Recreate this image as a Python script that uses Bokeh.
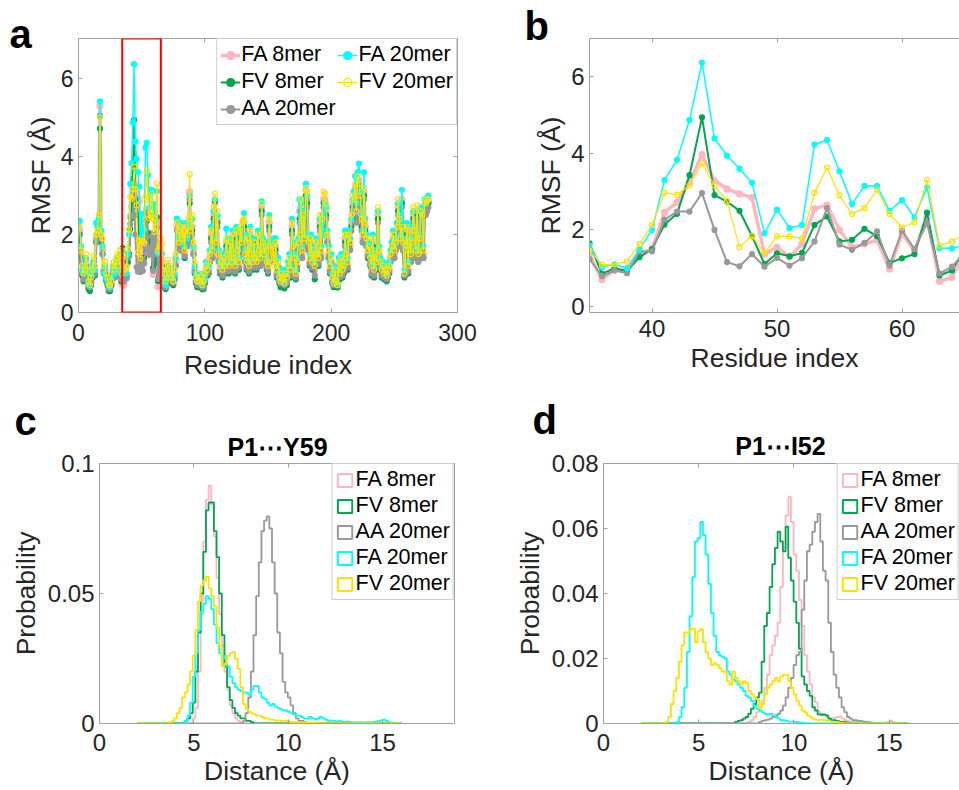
import numpy as np
from bokeh.plotting import figure
from bokeh.models import Range1d, LinearAxis, FixedTicker, Legend, LegendItem, BoxAnnotation
from bokeh.core.properties import value
from bokeh.layouts import row, column
from bokeh.embed import file_html
from bokeh.resources import INLINE

# ---------------- data ----------------
NAMES = ["FA 8mer", "FV 8mer", "AA 20mer", "FA 20mer", "FV 20mer"]
COLORS = ["#FFB6C1", "#00A650", "#999999", "#00FFFF", "#FFE100"]

PANEL_LETTERS = ["a", "b", "c", "d"]
HIST_TITLES = ["P1⋯Y59", "P1⋯I52"]

# RMSF (Angstrom) per residue 1..277
RMSF_FA8 = [
    2.10, 1.50, 1.00, 0.90, 1.00, 1.30, 1.00, 0.65, 0.60, 0.80,
    1.00, 1.30, 1.00, 1.90, 2.00, 2.30, 5.30, 1.90, 1.60, 1.10,
    1.10, 0.90, 0.75, 0.60, 0.60, 0.75, 1.00, 1.10, 0.95, 1.25,
    1.35, 1.00, 1.45, 0.75,
    1.36, 0.70, 0.96, 0.98, 1.37, 1.50, 2.46, 2.72, 3.24, 3.97,
    3.29, 3.07, 2.94, 2.85, 1.37, 1.55, 1.29, 1.63, 2.55, 2.65,
    2.00, 1.55, 1.63, 1.74, 0.98, 1.90, 1.46, 2.33, 0.66, 0.76,
    1.40, 1.30, 0.75, 0.70, 0.65, 0.85,
    1.10, 0.85, 0.80, 1.00, 0.75, 0.90, 1.30, 2.20, 1.90, 1.70,
    2.10, 1.70, 1.90, 1.50, 2.10, 1.80, 2.20, 3.10, 1.90, 2.20,
    1.60, 1.10, 0.80, 0.70, 0.80, 0.70, 0.80, 0.60, 0.65, 0.80,
    1.10, 1.00, 1.10, 1.40, 2.00, 1.50, 2.50, 2.80, 1.70, 2.40,
    1.40, 1.10, 1.10, 1.00, 1.30, 1.10, 1.80, 1.40, 1.10, 1.70,
    1.20, 1.90, 1.30, 1.10, 2.00, 1.50, 1.20, 2.00, 1.70, 2.10,
    2.30, 1.40, 1.20, 1.80, 1.10, 2.00, 1.40, 1.20, 1.70, 1.30,
    1.20, 1.90, 1.50, 1.30, 2.70, 1.70, 1.40, 1.60, 1.20, 1.10,
    2.30, 1.50, 1.50, 1.60, 1.60, 1.70, 1.00, 1.20, 0.85, 0.75,
    0.90, 0.80, 0.70, 0.90, 0.80, 1.10, 1.30, 1.00, 2.20, 1.60,
    1.30, 0.95, 1.20, 1.70, 2.60, 2.70, 1.50, 2.40, 1.80, 3.15,
    2.90, 1.70, 1.30, 1.80, 1.20, 1.50, 1.10, 1.70, 1.40, 1.30,
    2.30, 1.50, 2.30, 2.90, 2.90, 2.60, 1.90, 1.50, 1.10, 1.30,
    0.85, 0.70, 1.00, 0.75, 0.65, 1.20, 0.95, 1.30, 1.00, 1.10,
    1.90, 1.40, 1.20, 1.90, 1.70, 2.30, 2.80, 2.80, 3.20, 2.50,
    3.30, 3.40, 2.90, 2.30, 1.90, 3.10, 2.20, 1.80, 1.50, 1.60,
    1.30, 1.10, 1.80, 1.00, 1.40, 1.20, 2.50, 1.50, 1.20, 1.00,
    1.10, 0.95, 1.00, 0.90, 1.00, 1.10, 1.40, 1.60, 1.90, 1.50,
    1.70, 2.10, 2.70, 2.30, 1.80, 2.90, 1.70, 0.95, 1.50, 2.10,
    1.10, 2.00, 1.40, 1.70, 2.50, 2.00, 1.50, 2.60, 1.40, 1.80,
    2.50, 2.40, 1.50, 2.70, 2.70, 2.80, 2.85,
]
RMSF_FV8 = [
    2.00, 1.40, 0.95, 0.80, 0.90, 1.20, 0.90, 0.60, 0.55, 0.70,
    0.90, 1.20, 0.95, 1.80, 1.90, 2.20, 4.72, 1.80, 1.50, 1.00,
    1.00, 0.80, 0.70, 0.55, 0.55, 0.70, 0.90, 1.00, 0.90, 1.20,
    1.30, 0.95, 1.40, 0.80,
    1.65, 0.85, 1.00, 0.92, 1.29, 1.50, 2.14, 2.42, 3.43, 4.94,
    2.91, 2.74, 2.50, 1.84, 1.11, 1.39, 1.31, 1.40, 2.13, 2.35,
    1.70, 1.74, 2.03, 1.84, 1.14, 1.26, 1.37, 2.45, 0.81, 0.94,
    1.50, 1.20, 0.70, 0.65, 0.60, 0.80,
    1.00, 0.80, 0.75, 0.95, 0.70, 0.85, 1.20, 2.40, 1.80, 1.60,
    2.00, 1.60, 1.80, 1.40, 2.00, 1.70, 2.10, 2.80, 1.80, 2.10,
    1.50, 1.00, 0.75, 0.65, 0.75, 0.65, 0.75, 0.60, 0.60, 0.75,
    1.00, 0.95, 1.00, 1.30, 1.90, 1.40, 2.40, 2.85, 1.60, 2.30,
    1.30, 1.00, 1.00, 0.90, 1.20, 1.00, 1.70, 1.30, 1.00, 1.60,
    1.10, 1.80, 1.20, 1.00, 1.90, 1.40, 1.10, 1.90, 1.60, 2.00,
    2.20, 1.30, 1.10, 1.70, 1.00, 1.90, 1.30, 1.10, 1.60, 1.20,
    1.10, 1.80, 1.40, 1.20, 2.60, 1.60, 1.30, 1.50, 1.10, 1.00,
    2.20, 1.40, 1.30, 1.50, 1.40, 1.60, 0.90, 1.10, 0.75, 0.65,
    0.80, 0.70, 0.62, 0.80, 0.70, 1.00, 1.20, 0.90, 2.10, 1.50,
    1.20, 0.85, 1.10, 1.60, 2.40, 2.60, 1.40, 2.30, 1.70, 3.00,
    2.80, 1.60, 1.20, 1.70, 1.10, 1.40, 0.85, 1.60, 1.30, 1.20,
    2.20, 1.40, 2.20, 2.80, 2.80, 2.50, 1.80, 1.40, 1.00, 1.20,
    0.75, 0.65, 0.90, 0.70, 0.65, 1.10, 0.85, 1.20, 0.90, 1.00,
    1.80, 1.30, 1.10, 1.80, 1.60, 2.20, 2.70, 2.70, 3.10, 2.40,
    3.20, 3.30, 2.80, 2.20, 1.80, 3.00, 2.10, 1.70, 1.40, 1.50,
    1.20, 0.95, 1.70, 0.90, 1.30, 1.10, 2.40, 1.40, 1.10, 0.90,
    1.00, 0.85, 0.90, 0.80, 0.90, 1.00, 1.30, 1.50, 1.80, 1.40,
    1.60, 2.00, 2.60, 2.20, 1.70, 2.80, 1.60, 0.90, 1.40, 2.00,
    1.00, 1.90, 1.30, 1.60, 2.40, 1.90, 1.40, 2.50, 1.30, 1.70,
    2.40, 2.30, 1.40, 2.60, 2.60, 2.70, 2.80,
]
RMSF_AA20 = [
    1.60, 1.30, 1.00, 0.85, 0.95, 1.20, 0.95, 0.70, 0.65, 0.75,
    0.95, 1.20, 1.00, 1.80, 1.90, 2.10, 5.05, 1.90, 1.50, 1.05,
    1.05, 0.85, 0.75, 0.60, 0.60, 0.75, 0.95, 1.00, 0.90, 1.20,
    1.30, 0.95, 1.40, 0.85,
    1.24, 0.79, 0.94, 0.87, 1.44, 1.44, 2.27, 2.48, 2.48, 2.96,
    2.00, 1.16, 1.05, 1.37, 1.04, 1.27, 1.07, 1.26, 1.70, 2.57,
    1.62, 1.48, 1.66, 1.96, 1.07, 1.98, 1.50, 2.18, 0.86, 1.04,
    1.40, 1.10, 0.75, 0.70, 0.65, 0.85,
    1.00, 0.85, 0.80, 1.00, 0.75, 0.90, 1.20, 2.10, 1.80, 1.60,
    1.90, 1.60, 1.80, 1.45, 1.90, 1.70, 2.00, 2.90, 1.80, 2.00,
    1.50, 1.05, 0.80, 0.70, 0.80, 0.70, 0.80, 0.65, 0.65, 0.80,
    1.00, 1.00, 1.05, 1.30, 1.80, 1.40, 2.30, 2.60, 1.60, 2.20,
    1.30, 1.05, 1.05, 0.95, 1.20, 1.05, 1.60, 1.30, 1.05, 1.50,
    1.15, 1.70, 1.20, 1.05, 1.80, 1.40, 1.15, 1.80, 1.50, 1.90,
    2.10, 1.30, 1.15, 1.60, 1.05, 1.80, 1.30, 1.15, 1.50, 1.20,
    1.15, 1.70, 1.40, 1.20, 2.50, 1.60, 1.30, 1.50, 1.15, 1.05,
    2.10, 1.40, 1.30, 1.50, 1.40, 1.50, 0.95, 1.15, 0.80, 0.75,
    0.85, 0.75, 0.70, 0.85, 0.75, 1.05, 1.20, 0.95, 2.00, 1.50,
    1.20, 0.90, 1.15, 1.60, 2.30, 2.50, 1.40, 2.20, 1.70, 2.90,
    2.70, 1.60, 1.25, 1.70, 1.15, 1.40, 0.95, 1.60, 1.30, 1.25,
    2.10, 1.40, 2.10, 2.70, 2.70, 2.40, 1.80, 1.40, 1.05, 1.25,
    0.80, 0.70, 0.95, 0.75, 0.70, 1.10, 0.90, 1.20, 0.95, 1.05,
    1.70, 1.30, 1.15, 1.70, 1.60, 2.10, 2.60, 2.60, 2.90, 2.30,
    3.00, 3.10, 2.70, 2.10, 1.80, 2.90, 2.00, 1.70, 1.45, 1.50,
    1.25, 1.00, 1.60, 0.95, 1.30, 1.15, 2.30, 1.40, 1.15, 0.95,
    1.05, 0.90, 0.95, 0.85, 0.95, 1.05, 1.30, 1.50, 1.70, 1.40,
    1.60, 1.90, 2.50, 2.10, 1.70, 2.70, 1.60, 0.95, 1.40, 1.90,
    1.05, 1.80, 1.30, 1.60, 2.30, 1.80, 1.40, 2.40, 1.30, 1.65,
    2.30, 2.20, 1.40, 2.50, 2.50, 2.60, 2.70,
]
RMSF_FA20 = [
    2.35, 1.70, 1.10, 1.00, 1.20, 1.40, 1.10, 0.75, 0.70, 1.00,
    1.20, 1.30, 1.10, 2.30, 2.20, 2.40, 5.42, 2.10, 1.70, 1.00,
    1.20, 0.90, 0.80, 0.70, 0.65, 0.90, 1.10, 1.20, 1.00, 1.30,
    1.40, 1.10, 1.50, 1.10,
    1.59, 1.03, 1.10, 1.00, 1.50, 2.00, 3.30, 3.83, 4.87, 6.37,
    4.39, 3.94, 3.60, 3.23, 1.91, 2.53, 2.05, 2.13, 4.23, 4.35,
    3.53, 2.68, 3.15, 3.15, 2.50, 2.78, 2.33, 3.11, 1.53, 1.52,
    1.60, 1.50, 0.90, 0.75, 0.70, 0.90,
    1.20, 0.90, 1.00, 1.10, 0.90, 1.00, 1.40, 2.40, 2.00, 1.90,
    2.30, 1.80, 2.00, 1.70, 2.30, 1.90, 2.30, 3.00, 2.20, 2.40,
    1.70, 1.20, 1.00, 0.80, 0.90, 0.80, 1.00, 0.75, 0.80, 0.90,
    1.30, 1.20, 1.20, 1.60, 2.20, 1.70, 2.60, 2.90, 1.90, 2.50,
    1.60, 1.30, 1.20, 1.20, 1.50, 1.30, 2.15, 1.60, 1.30, 1.90,
    1.40, 2.10, 1.50, 1.30, 2.20, 1.70, 1.40, 2.10, 1.90, 2.30,
    2.55, 1.60, 1.40, 2.00, 1.30, 2.20, 1.60, 1.40, 1.90, 1.50,
    1.40, 2.10, 1.70, 1.50, 2.85, 1.90, 1.60, 1.80, 1.40, 1.30,
    2.50, 1.80, 1.85, 1.80, 1.90, 1.90, 1.20, 1.40, 1.00, 0.85,
    1.10, 0.95, 0.80, 1.10, 1.00, 1.30, 1.50, 1.20, 2.40, 1.80,
    1.50, 1.10, 1.40, 1.90, 2.90, 2.80, 1.70, 2.60, 2.00, 3.30,
    3.00, 1.90, 1.50, 2.00, 1.40, 1.70, 1.30, 1.90, 1.60, 1.50,
    2.40, 1.70, 2.50, 2.00, 2.80, 2.70, 2.10, 1.70, 1.30, 1.50,
    1.00, 0.80, 1.20, 0.85, 0.75, 1.40, 1.10, 1.50, 1.20, 1.30,
    2.10, 1.60, 1.40, 2.10, 1.90, 2.40, 2.90, 3.10, 3.50, 2.80,
    3.60, 3.82, 3.10, 2.50, 2.10, 3.60, 2.40, 2.00, 1.70, 1.80,
    1.50, 1.30, 2.00, 1.20, 1.60, 1.40, 2.60, 1.70, 1.40, 1.20,
    1.30, 1.10, 1.20, 1.00, 1.20, 1.30, 1.60, 1.80, 2.10, 1.70,
    1.90, 2.30, 2.80, 2.50, 2.00, 3.15, 1.90, 1.10, 1.70, 2.30,
    1.30, 2.20, 1.60, 1.90, 2.60, 2.20, 1.70, 2.60, 1.60, 2.00,
    2.70, 2.60, 1.70, 2.90, 2.80, 2.95, 3.00,
]
RMSF_FV20 = [
    2.20, 1.60, 1.20, 1.00, 1.10, 1.50, 1.20, 0.80, 0.70, 0.90,
    1.10, 1.45, 1.20, 2.00, 2.10, 2.50, 5.00, 2.00, 1.90, 1.20,
    1.30, 1.00, 0.90, 0.70, 0.70, 0.80, 1.20, 1.30, 1.10, 1.40,
    1.50, 1.20, 1.60, 1.00,
    1.46, 1.09, 1.11, 1.17, 1.63, 2.13, 2.97, 2.92, 3.16, 3.74,
    3.16, 2.75, 1.55, 1.84, 1.39, 1.84, 1.83, 1.78, 2.97, 3.63,
    2.90, 2.42, 2.57, 3.05, 2.42, 2.07, 2.20, 3.31, 1.59, 1.70,
    1.90, 1.75, 1.20, 1.00, 0.80, 1.10,
    1.35, 1.00, 0.90, 1.20, 0.80, 1.10, 1.50, 2.30, 2.10, 1.80,
    2.20, 1.90, 2.10, 1.60, 2.20, 2.00, 2.40, 3.55, 2.10, 2.50,
    1.80, 1.30, 0.90, 0.80, 1.00, 0.80, 0.90, 0.70, 0.80, 1.00,
    1.20, 1.10, 1.30, 1.50, 2.10, 1.60, 2.70, 3.05, 1.80, 2.60,
    1.50, 1.20, 1.30, 1.10, 1.40, 1.20, 1.90, 1.50, 1.20, 1.80,
    1.30, 2.00, 1.40, 1.20, 2.10, 1.60, 1.30, 2.20, 1.80, 2.35,
    2.40, 1.50, 1.30, 1.90, 1.20, 2.10, 1.50, 1.30, 1.80, 1.40,
    1.30, 2.00, 1.60, 1.40, 2.80, 1.80, 1.50, 1.70, 1.30, 1.20,
    2.40, 1.60, 1.30, 1.70, 1.20, 1.80, 1.10, 1.30, 0.90, 0.80,
    1.00, 0.90, 0.75, 1.00, 0.90, 1.20, 1.40, 1.10, 2.30, 1.70,
    1.40, 1.00, 1.30, 1.80, 2.00, 2.90, 1.60, 2.50, 1.90, 3.20,
    3.10, 1.80, 1.40, 1.90, 1.30, 1.60, 1.20, 1.80, 1.50, 1.40,
    2.50, 1.60, 2.40, 3.10, 3.05, 2.80, 2.00, 1.60, 1.20, 1.40,
    0.90, 0.75, 1.10, 0.80, 0.70, 1.30, 1.00, 1.40, 1.10, 1.20,
    2.00, 1.50, 1.30, 2.00, 1.80, 2.50, 3.00, 2.90, 3.30, 2.60,
    3.50, 3.30, 3.00, 2.40, 2.00, 3.20, 2.30, 1.90, 1.60, 1.70,
    1.40, 1.20, 1.90, 1.10, 1.50, 1.30, 2.70, 1.60, 1.30, 1.10,
    1.20, 1.00, 1.10, 0.95, 1.10, 1.20, 1.50, 1.70, 2.00, 1.60,
    1.80, 2.20, 2.90, 2.40, 1.90, 2.20, 1.80, 1.00, 1.60, 2.20,
    1.20, 2.10, 1.50, 1.80, 2.70, 2.10, 1.60, 2.75, 1.50, 1.90,
    2.60, 2.50, 1.60, 2.80, 2.90, 2.85, 2.90,
]
RMSF = [RMSF_FA8, RMSF_FV8, RMSF_AA20, RMSF_FA20, RMSF_FV20]

ZOOM_BOX = [34.6, 65.2]      # residues marked by the red box in panel a
B_XRANGE = [35, 64.6]        # residues shown in panel b

# Distance histograms: 100 bins between 2 and 16 Angstrom
HIST_LO, HIST_HI, HIST_NBINS = 2.0, 16.0, 100
# (first bin index, probabilities) per series -- panel c: P1...Y59
C_FA8 = (21, [0.002, 0.006, 0.02, 0.042, 0.07, 0.086, 0.0915, 0.084, 0.072, 0.056,
              0.042, 0.03, 0.02, 0.013, 0.007, 0.004, 0.002, 0.001, 0.0005])
C_FV8 = (18, [0.001, 0.002, 0.004, 0.008, 0.02, 0.035, 0.05, 0.066, 0.082, 0.085,
              0.085, 0.074, 0.064, 0.05, 0.034, 0.022, 0.014, 0.009, 0.006, 0.004,
              0.003, 0.002, 0.002, 0.001, 0.001, 0.0005])
C_AA20 = (40, [0.001, 0.004, 0.01, 0.02, 0.034, 0.049, 0.062, 0.074, 0.078, 0.0797,
               0.075, 0.062, 0.05, 0.035, 0.027, 0.016, 0.012, 0.01, 0.007, 0.004,
               0.002, 0.001, 0.001, 0.0005])
C_FA20 = (18, [0.001, 0.003, 0.008, 0.018, 0.027, 0.036, 0.043, 0.046, 0.049, 0.048,
               0.044, 0.038, 0.031, 0.027, 0.025, 0.026, 0.022, 0.018, 0.0155, 0.014,
               0.013, 0.0125, 0.012, 0.012, 0.011, 0.013, 0.0145, 0.0145, 0.012, 0.01,
               0.0095, 0.008, 0.007, 0.0075, 0.0065, 0.006, 0.0055, 0.005, 0.005, 0.0045,
               0.004, 0.0035, 0.003, 0.003, 0.0025, 0.002, 0.002, 0.0025, 0.002, 0.0015,
               0.002, 0.0025, 0.002, 0.0015, 0.001, 0.0012, 0.001, 0.0008, 0.001, 0.0008,
               0.0006, 0.0008, 0.0006, 0.0005, 0.0005, 0.0004, 0.0005, 0.0004, 0.0004, 0.0005,
               0.0004, 0.0006, 0.0008, 0.001, 0.0012, 0.0015, 0.001, 0.0004, 0.0003, 0.0002,
               0.0001, 0.0])
C_FV20 = (12, [0.0005, 0.001, 0.002, 0.004, 0.006, 0.01, 0.012, 0.015, 0.02, 0.026,
               0.036, 0.047, 0.053, 0.055, 0.0565, 0.052, 0.049, 0.045, 0.037, 0.03,
               0.022, 0.023, 0.026, 0.027, 0.0275, 0.025, 0.021, 0.014, 0.0075, 0.0055,
               0.0045, 0.004, 0.0035, 0.003, 0.003, 0.0025, 0.002, 0.002, 0.0015, 0.0015,
               0.001, 0.0012, 0.001, 0.0008, 0.001, 0.0008, 0.0006, 0.0005, 0.0005, 0.0004,
               0.0004, 0.0003, 0.0003, 0.0002, 0.0002, 0.0002, 0.0001, 0.0001, 0.0001])
# panel d: P1...I52
D_FA8 = (40, [0.0005, 0.001, 0.002, 0.0035, 0.005, 0.007, 0.011, 0.015, 0.021, 0.024,
              0.027, 0.031, 0.042, 0.054, 0.064, 0.0698, 0.062, 0.052, 0.047, 0.038,
              0.03, 0.021, 0.016, 0.012, 0.008, 0.0065, 0.0037, 0.003, 0.0025, 0.002,
              0.0018, 0.0015, 0.0018, 0.002, 0.0022, 0.0015, 0.001, 0.0008, 0.0006, 0.0005,
              0.0005, 0.0004, 0.0004, 0.0003, 0.0003, 0.0003, 0.0002, 0.0002, 0.0002, 0.0002,
              0.0002, 0.0003, 0.0005, 0.0008, 0.0005, 0.0002, 0.0001, 0.0001, 0.0001, 0.0])
D_FV8 = (35, [0.0005, 0.0008, 0.001, 0.0015, 0.002, 0.003, 0.0045, 0.006, 0.008, 0.0095,
              0.019, 0.03, 0.034, 0.042, 0.049, 0.054, 0.059, 0.056, 0.053, 0.0606,
              0.051, 0.044, 0.0375, 0.031, 0.023, 0.0145, 0.012, 0.01, 0.0085, 0.005,
              0.004, 0.0028, 0.0027, 0.0028, 0.0025, 0.0015, 0.001, 0.001, 0.0008, 0.0006,
              0.0005, 0.0004, 0.0003, 0.0002])
D_AA20 = (44, [0.0005, 0.0008, 0.001, 0.0012, 0.0015, 0.002, 0.0025, 0.003, 0.004, 0.0055,
               0.008, 0.011, 0.014, 0.018, 0.021, 0.022, 0.035, 0.044, 0.053, 0.055,
               0.059, 0.062, 0.0645, 0.056, 0.047, 0.044, 0.031, 0.022, 0.015, 0.011,
               0.008, 0.005, 0.0035, 0.002, 0.0015, 0.001, 0.001, 0.0008, 0.0008, 0.0006,
               0.0005, 0.0004, 0.0003, 0.0002, 0.0001])
D_FA20 = (13, [0.0005, 0.002, 0.005, 0.011, 0.022, 0.033, 0.045, 0.056, 0.057, 0.062,
               0.058, 0.052, 0.043, 0.034, 0.027, 0.022, 0.021, 0.0205, 0.02, 0.016,
               0.015, 0.0135, 0.013, 0.012, 0.011, 0.01, 0.0085, 0.008, 0.007, 0.0055,
               0.0045, 0.004, 0.0035, 0.003, 0.0028, 0.003, 0.0025, 0.002, 0.0015, 0.001,
               0.001, 0.0008, 0.0006, 0.0006, 0.0005, 0.0004, 0.0003, 0.0002])
D_FV20 = (9, [0.0005, 0.002, 0.006, 0.01, 0.014, 0.019, 0.024, 0.028, 0.028, 0.029,
              0.0293, 0.025, 0.0285, 0.029, 0.025, 0.022, 0.02, 0.018, 0.0185, 0.018,
              0.017, 0.016, 0.016, 0.013, 0.012, 0.016, 0.014, 0.013, 0.012, 0.013,
              0.0125, 0.01, 0.009, 0.008, 0.0075, 0.0048, 0.006, 0.009, 0.011, 0.012,
              0.013, 0.014, 0.013, 0.0145, 0.015, 0.015, 0.013, 0.011, 0.009, 0.007,
              0.0055, 0.004, 0.0035, 0.0025, 0.002, 0.0015, 0.0012, 0.001, 0.0012, 0.001,
              0.0008, 0.0008, 0.0006, 0.0005, 0.0004, 0.0003, 0.0002])
HIST_C = [C_FA8, C_FV8, C_AA20, C_FA20, C_FV20]
HIST_D = [D_FA8, D_FV8, D_AA20, D_FA20, D_FV20]

# ---------------- styling ----------------
FONT = "Liberation Sans"
TXT = "#262626"
AXC = "#a0a0a0"
LINE_W = [3.5, 2.0, 2.0, 1.5, 1.2]
MARK_S = [6, 5, 5, 5, 5]
HOLLOW = [False, False, False, False, True]


def base_fig(w, h, xr, yr, ml, mr, mt, mb):
    p = figure(width=w, height=h, x_range=Range1d(*xr), y_range=Range1d(*yr),
               output_backend="svg", toolbar_location=None, tools="",
               min_border_left=ml, min_border_right=mr,
               min_border_top=mt, min_border_bottom=mb)
    p.outline_line_color = None
    p.xgrid.visible = False
    p.ygrid.visible = False
    p.background_fill_color = "white"
    p.border_fill_color = "white"
    return p


def style_axis(ax, ticks, size, label=None, label_size=26.5, overrides=None,
               show=True, standoff=5, label_standoff=4):
    ax.ticker = FixedTicker(ticks=ticks)
    ax.minor_tick_line_color = None
    ax.major_tick_in = 4
    ax.major_tick_out = 0
    ax.axis_line_color = AXC
    ax.major_tick_line_color = AXC
    ax.major_label_text_font = FONT
    ax.major_label_text_color = TXT
    ax.major_label_standoff = standoff
    ax.major_label_text_font_size = f"{size}px"
    if overrides:
        ax.major_label_overrides = overrides
    if not show:
        ax.major_label_text_font_size = "0px"
        ax.major_label_text_color = None
        ax.major_label_standoff = 0
    if label:
        ax.axis_label = label
        ax.axis_label_text_font = FONT
        ax.axis_label_text_font_size = f"{label_size}px"
        ax.axis_label_text_font_style = "normal"
        ax.axis_label_text_color = TXT
        ax.axis_label_standoff = label_standoff


def mirror(p, xticks, yticks, right=True):
    top = LinearAxis()
    style_axis(top, xticks, 10, show=False)
    p.add_layout(top, "above")
    if right:
        rt = LinearAxis()
        style_axis(rt, yticks, 10, show=False)
        p.add_layout(rt, "right")


def corner_text(p, txt, dx, dy, size, align="left"):
    # text anchored at the frame's top-left corner, shifted in screen pixels
    p.text(x=[p.x_range.start], y=[p.y_range.end], text=[txt], x_offset=dx, y_offset=dy,
           level="overlay", text_font=value(FONT), text_font_size=value(f"{size}px"),
           text_font_style=value("bold"), text_color="black",
           text_align=value(align), text_baseline=value("alphabetic"))


def draw_rmsf(p, with_legend):
    items = []
    for name, col, vals, lw, ms, hol in zip(NAMES, COLORS, RMSF, LINE_W, MARK_S, HOLLOW):
        x = np.arange(1, len(vals) + 1)
        lr = p.line(x, vals, line_color=col, line_width=lw, line_join="round")
        sr = p.scatter(x, vals, size=ms, marker="circle", line_color=col,
                       fill_color=None if hol else col, line_width=1.2)
        items.append(LegendItem(label=name, renderers=[lr, sr]))
    if with_legend:
        leg = Legend(items=items, location="top_right", orientation="vertical", ncols=2,
                     label_text_font=FONT, label_text_font_size="21.5px", label_text_color="black",
                     glyph_width=20, glyph_height=20, label_height=20, label_standoff=1,
                     spacing=2, padding=3, margin=0,
                     border_line_color=AXC, border_line_width=1, background_fill_alpha=1)
        p.add_layout(leg, "center")


def draw_hist(p, hists):
    edges = np.linspace(HIST_LO, HIST_HI, HIST_NBINS + 1)
    items = []
    nan1 = np.array([np.nan])
    for name, col, (start, vals) in zip(NAMES, COLORS, hists):
        full = np.zeros(HIST_NBINS)
        v = vals[:HIST_NBINS - start]
        full[start:start + len(v)] = v
        y = np.append(full, full[-1])
        p.step(edges, y, mode="after", line_color=col, line_width=1.8)
        # legend proxy (not drawn in the plot): hollow rectangle swatch
        proxy = p.quad(left=nan1, right=nan1, bottom=nan1, top=nan1, fill_color=None,
                       line_color=col, line_width=2)
        items.append(LegendItem(label=name, renderers=[proxy]))
    leg = Legend(items=items, location="top_right", orientation="vertical",
                 label_text_font=FONT, label_text_font_size="21.5px", label_text_color="black",
                 glyph_width=18, glyph_height=16, label_height=20, label_standoff=2,
                 spacing=1, padding=3, margin=0,
                 border_line_color=AXC, border_line_width=1, background_fill_alpha=1)
    p.add_layout(leg, "center")


# Figures in one row share their border sizes, so both top panels use the same
# frame (y 38..312); panel b's y range is extended below 0 so that its data sit
# where they are in the original.
# ---------------- panel a ----------------
pa = base_fig(480, 392, (0, 300), (0, 7.03), 78, 23, 38, 80)
style_axis(pa.xaxis[0], [0, 100, 200, 300], 23, label="Residue index", standoff=11, label_standoff=6)
style_axis(pa.yaxis[0], [0, 2, 4, 6], 23, label="RMSF (Å)", standoff=5, label_standoff=2)
mirror(pa, [0, 100, 200, 300], [0, 2, 4, 6])
draw_rmsf(pa, True)
pa.add_layout(BoxAnnotation(left=ZOOM_BOX[0], right=ZOOM_BOX[1], fill_alpha=0,
                            line_color="#FF0000", line_alpha=1, line_width=2))
corner_text(pa, PANEL_LETTERS[0], -69, -5, 40)

# ---------------- panel b ----------------
pb = base_fig(479, 392, tuple(B_XRANGE), (-0.157, 7.0), 109, 0, 38, 80)
style_axis(pb.xaxis[0], [40, 50, 60], 24, label="Residue index", standoff=7, label_standoff=3)
style_axis(pb.yaxis[0], [0, 2, 4, 6], 24, label="RMSF (Å)", standoff=5, label_standoff=2)
mirror(pb, [40, 50, 60], [0, 2, 4, 6], right=False)
draw_rmsf(pb, False)
corner_text(pb, PANEL_LETTERS[1], -65, -13, 40)

# ---------------- panel c ----------------
pc = base_fig(480, 398, (0, 18.81), (0, 0.1), 99, 26, 71, 67)
style_axis(pc.xaxis[0], [0, 5, 10, 15], 24, label="Distance (Å)", standoff=10, label_standoff=2)
style_axis(pc.yaxis[0], [0, 0.05, 0.1], 24, label="Probability", standoff=5, label_standoff=4,
           overrides={0: "0", 0.05: "0.05", 0.1: "0.1"})
mirror(pc, [0, 5, 10, 15], [0, 0.05, 0.1])
draw_hist(pc, HIST_C)
corner_text(pc, PANEL_LETTERS[2], -85, -43, 40)
corner_text(pc, HIST_TITLES[0], 178, -17, 25, align="center")

# ---------------- panel d ----------------
pd_ = base_fig(479, 398, (0, 18.69), (0, 0.08), 123, 0, 71, 67)
style_axis(pd_.xaxis[0], [0, 5, 10, 15], 24, label="Distance (Å)", standoff=10, label_standoff=2)
style_axis(pd_.yaxis[0], [0, 0.02, 0.04, 0.06, 0.08], 24, label="Probability", standoff=5,
           label_standoff=4,
           overrides={0: "0", 0.02: "0.02", 0.04: "0.04", 0.06: "0.06", 0.08: "0.08"})
mirror(pd_, [0, 5, 10, 15], [0, 0.02, 0.04, 0.06, 0.08], right=False)
draw_hist(pd_, HIST_D)
corner_text(pd_, PANEL_LETTERS[3], -71, -44, 40)
corner_text(pd_, HIST_TITLES[1], 177, -18, 25, align="center")

layout = column(row(pa, pb), row(pc, pd_))
open("out.html", "w").write(file_html(layout, INLINE))
